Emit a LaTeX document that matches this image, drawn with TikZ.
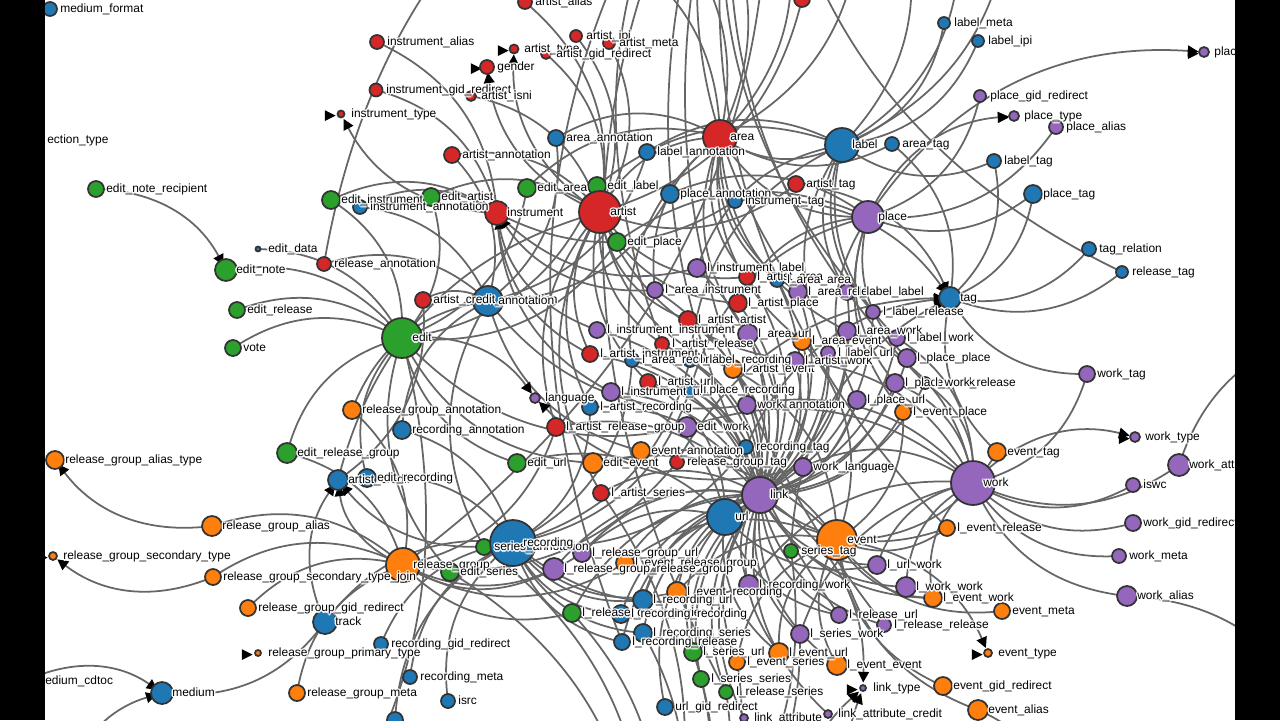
\documentclass[tikz,border=0pt]{standalone}
\usepackage{fontspec}
\setmainfont{Liberation Sans}
\usetikzlibrary{arrows.meta}

\definecolor{cb}{HTML}{1F77B4}
\definecolor{co}{HTML}{FF7F0E}
\definecolor{cg}{HTML}{2CA02C}
\definecolor{cr}{HTML}{D62728}
\definecolor{cp}{HTML}{9467BD}
\definecolor{rim}{HTML}{333333}
\definecolor{wire}{HTML}{666666}

% tables: name/x/y/radius/colour/label
\def\tablelist{%
medium_format/50/9/7/cb/medium\_format,
artist_alias/525/2/7/cr/artist\_alias,
instrument_alias/377/42/7/cr/instrument\_alias,
artist_ipi/576/36/6/cr/artist\_ipi,
artist_meta/609/43/6/cr/artist\_meta,
artist_type/514/49/4.5/cr/artist\_type,
artist_gid_redirect/546/54/5/cr/artist\_gid\_redirect,
gender/487/67/7/cr/gender,
instrument_gid_redirect/376/90/6.5/cr/instrument\_gid\_redirect,
artist_isni/471/96/5/cr/artist\_isni,
instrument_type/341/114/3.5/cr/instrument\_type,
top_red/802/-1/8/cr/{},
area_annotation/556/138/8/cb/area\_annotation,
area/720/137/17/cr/area,
label/842/145/17/cb/label,
area_tag/892/144/7/cb/area\_tag,
label_meta/944/23/6/cb/label\_meta,
label_ipi/978/41/6/cb/label\_ipi,
plac/1204/52/5/cp/plac,
place_gid_redirect/980/96/6/cp/place\_gid\_redirect,
place_type/1014/116/5/cp/place\_type,
place_alias/1056/127/7/cp/place\_alias,
label_tag/994/161/7/cb/label\_tag,
place_tag/1033/194/9/cb/place\_tag,
label_annotation/647/152/8/cb/label\_annotation,
artist_annotation/452/155/8/cr/artist\_annotation,
artist_tag/796/184/8/cr/artist\_tag,
place_annotation/670/194/9/cb/place\_annotation,
instrument_tag/735/201/7/cb/instrument\_tag,
place/868/217/16/cp/place,
edit_note_recipient/96/189/8/cg/edit\_note\_recipient,
edit_artist/431/197/9/cg/edit\_artist,
edit_instrument/331/200/9/cg/edit\_instrument,
instrument_annotation/360/207/7/cb/instrument\_annotation,
instrument/497/213/12/cr/instrument,
edit_area/527/188/9/cg/edit\_area,
edit_label/597/186/9/cg/edit\_label,
artist/600/212/21/cr/artist,
edit_place/617/242/9/cg/edit\_place,
edit_data/258/249/2.5/cb/edit\_data,
edit_note/226/270/11/cg/edit\_note,
release_annotation/324/264/7/cr/release\_annotation,
edit_release/237/310/8/cg/edit\_release,
vote/233/348/8/cg/vote,
artist_credit_annotation/423/300/8/cr/artist\_credit\_annotation,
annotation/488/301/15/cb/annotation,
edit/402/338/20/cg/edit,
l_instrument_label/697/268/9/cp/l\_instrument\_label,
l_artist_area/747/277/8/cr/l\_artist\_area,
l_area_area/777/280/7/cb/l\_area\_area,
l_area_instrument/655/290/8/cp/l\_area\_instrument,
l_area_release/798/292/9/cp/l\_area\_release,
l_label_label/847/292/8/cp/l\_label\_label,
l_artist_place/738/303/9/cr/l\_artist\_place,
l_label_release/873/312/7/cp/l\_label\_release,
tag/950/298/11/cb/tag,
tag_relation/1089/249/7/cb/tag\_relation,
release_tag/1122/272/6/cb/release\_tag,
l_artist_artist/688/320/9/cr/l\_artist\_artist,
l_instrument_instrument/597/330/8/cp/l\_instrument\_instrument,
l_area_url/748/334/10/cp/l\_area\_url,
l_area_event/802/341/9/co/l\_area\_event,
l_area_work/847/331/9/cp/l\_area\_work,
l_label_work/897/338/8/cp/l\_label\_work,
l_artist_release/662/344/7/cr/l\_artist\_release,
l_artist_instrument/590/354/8/cr/l\_artist\_instrument,
l_area_recording/632/360/7/cb/l\_area\_recording,
l_label_recording/690/360/7/cb/l\_label\_recording,
l_artist_event/733/369/9/co/l\_artist\_event,
l_artist_work/795/361/9/cp/l\_artist\_work,
l_label_url/828/353/7/cp/l\_label\_url,
l_place_place/907/358/9/cp/l\_place\_place,
l_artist_url/648/382/8/cr/l\_artist\_url,
l_instrument_url/611/392/9/cp/l\_instrument\_url,
l_place_recording/690/390/7/cb/l\_place\_recording,
l_place_work/895/383/9/cp/l\_place\_work,
l_work_release/925/383/6/cp/l\_work\_release,
work_tag/1087/374/8/cp/work\_tag,
language/535/398/5/cp/language,
l_artist_recording/590/407/8/cb/l\_artist\_recording,
work_annotation/747/405/9/cp/work\_annotation,
l_place_url/857/400/9/cp/l\_place\_url,
l_event_place/903/412/8/co/l\_event\_place,
release_group_annotation/352/410/9/co/release\_group\_annotation,
recording_annotation/402/430/9/cb/recording\_annotation,
l_artist_release_group/556/427/9/cr/l\_artist\_release\_group,
edit_work/687/427/10/cp/edit\_work,
work_type/1135/437/5/cp/work\_type,
recording_tag/746/447/7/cb/recording\_tag,
event_annotation/641/451/9/co/event\_annotation,
event_tag/997/452/9/co/event\_tag,
edit_release_group/287/453/10/cg/edit\_release\_group,
release_group_alias_type/55/460/9/co/release\_group\_alias\_type,
edit_url/517/463/9/cg/edit\_url,
edit_event/593/463/10/co/edit\_event,
release_group_tag/677/462/7/cr/release\_group\_tag,
work_language/803/467/9/cp/work\_language,
work_attribute/1179/465/11/cp/work\_attribute,
artist_credit/338/480/10/cb/artist\_credit,
edit_recording/367/478/9/cb/edit\_recording,
work/973/483/22/cp/work,
iswc/1133/485/7/cp/iswc,
l_artist_series/601/493/8/cr/l\_artist\_series,
url/725/517/18/cb/url,
link/760/495/18/cp/link,
release_group_alias/212/526/10/co/release\_group\_alias,
l_event_release/947/528/8/co/l\_event\_release,
work_gid_redirect/1133/523/8/cp/work\_gid\_redirect,
event/837/540/20/co/event,
series_annotation/484/547/8/cg/series\_annotation,
recording/513/543/23/cb/recording,
series_tag/791/551/7/cg/series\_tag,
l_release_group_url/582/553/9/cp/l\_release\_group\_url,
release_group_secondary_type/53/556/4/co/release\_group\_secondary\_type,
work_meta/1119/556/7/cp/work\_meta,
l_event_release_group/625/563/9/co/l\_event\_release\_group,
release_group/403/565/17/co/release\_group,
l_url_work/877/565/9/cp/l\_url\_work,
l_release_group_release_group/554/569/11/cp/l\_release\_group\_release\_group,
edit_series/450/572/9/cg/edit\_series,
release_group_secondary_type_join/213/577/8/co/release\_group\_secondary\_type\_join,
l_recording_work/749/585/10/cp/l\_recording\_work,
l_work_work/906/587/10/cp/l\_work\_work,
l_event_recording/677/592/10/co/l\_event\_recording,
work_alias/1127/596/10/cp/work\_alias,
l_event_work/933/598/9/co/l\_event\_work,
l_recording_url/643/600/10/cb/l\_recording\_url,
release_group_gid_redirect/248/608/8/co/release\_group\_gid\_redirect,
event_meta/1002/611/8/co/event\_meta,
l_release_group_series/572/613/9/cg/l\_release\_group\_series,
l_recording_recording/621/614/9/cb/l\_recording\_recording,
l_release_url/839/615/8/cp/l\_release\_url,
track/325/622/12/cb/track,
l_release_release/884/625/7/cp/l\_release\_release,
l_recording_series/643/633/9/cb/l\_recording\_series,
l_series_work/800/634/9/cp/l\_series\_work,
l_recording_release/622/642/8/cb/l\_recording\_release,
recording_gid_redirect/381/644/7/cb/recording\_gid\_redirect,
l_series_url/693/652/9/cg/l\_series\_url,
l_event_url/779/653/10/co/l\_event\_url,
event_type/988/653/4/co/event\_type,
release_group_primary_type/258/653/3/co/release\_group\_primary\_type,
l_event_series/737/662/8/co/l\_event\_series,
l_event_event/837/665/10/co/l\_event\_event,
recording_meta/410/677/7/cb/recording\_meta,
l_series_series/701/679/8/cg/l\_series\_series,
medium_cdtoc/25/681/8/cb/medium\_cdtoc,
event_gid_redirect/943/686/9/co/event\_gid\_redirect,
link_type/863/688/3/cp/link\_type,
l_release_series/726/692/7/cg/l\_release\_series,
medium/162/693/11/cb/medium,
release_group_meta/297/693/8/co/release\_group\_meta,
isrc/448/701/7/cb/isrc,
url_gid_redirect/665/707/8/cb/url\_gid\_redirect,
event_alias/978/710/10/co/event\_alias,
link_attribute_credit/828/714/4/cp/link\_attribute\_credit,
link_attribute/744/718/4/cp/link\_attribute,
recording_x/395/720/8/cb/{}}

% tables outside the frame
\def\offlist{release/760/-260, series/640/920, editor/230/950,
area_alias/650/-90, area_gid/700/-120, area_type/780/-100, iso_one/860/-80, iso_two/600/-60,
label_alias/900/-90, label_gid/960/-60, label_type/1010/-80,
work_alias_type/1320/720, work_attr_type/1330/330, event_alias_type/1060/820,
link_attr_type/900/900, link_type_attr/800/880, medium_src/60/800}

\def\fklist{%
edit_data/edit, edit_note/edit, edit_release/edit, vote/edit, edit_release_group/edit,
edit_artist/edit, edit_instrument/edit, edit_area/edit, edit_label/edit, edit_place/edit,
edit_url/edit, edit_event/edit, edit_work/edit, edit_recording/edit, edit_series/edit,
edit_artist/artist, edit_instrument/instrument, edit_area/area, edit_label/label,
edit_place/place, edit_url/url, edit_event/event, edit_work/work, edit_recording/recording,
edit_series/series, edit_release_group/release_group, edit/editor,
artist_annotation/annotation, artist_annotation/artist, area_annotation/annotation, area_annotation/area,
label_annotation/annotation, label_annotation/label, place_annotation/annotation, place_annotation/place,
instrument_annotation/annotation, instrument_annotation/instrument, release_annotation/annotation,
release_annotation/release, release_group_annotation/annotation, release_group_annotation/release_group,
recording_annotation/annotation, recording_annotation/recording, work_annotation/annotation,
work_annotation/work, event_annotation/annotation, event_annotation/event, series_annotation/annotation,
series_annotation/series, artist_credit_annotation/annotation, artist_credit_annotation/artist_credit,
artist_credit/artist,
artist_alias/artist, artist_ipi/artist, artist_meta/artist, artist_gid_redirect/artist, artist_isni/artist,
artist_tag/artist, artist/area, top_red/artist,
instrument_alias/instrument, instrument_gid_redirect/instrument, instrument_tag/instrument,
area_alias/area, area_gid/area, area_type/area, iso_one/area, iso_two/area,
label_meta/label, label_ipi/label, label_tag/label, label/area, label_alias/label, label_gid/label, label_type/label,
place_gid_redirect/place, place_alias/place, place_tag/place, place/area,
area_tag/area, area_tag/tag, label_tag/tag, place_tag/tag, work_tag/tag, event_tag/tag,
release_tag/tag, release_tag/release, tag_relation/tag,
recording_tag/recording, release_group_tag/release_group, series_tag/series, work_tag/work, event_tag/event,
link_attribute/link, link_attribute_credit/link, url_gid_redirect/url,
work_alias/work, work_meta/work, work_gid_redirect/work, iswc/work, work_attribute/work, work_language/work,
work_alias/work_alias_type, work_attribute/work_attr_type,
event_meta/event, event_gid_redirect/event, event_alias/event, event_alias/event_alias_type,
recording_gid_redirect/recording, recording_meta/recording, isrc/recording, track/recording, recording_x/recording,
release_group_alias/release_group, release_group_secondary_type_join/release_group,
release_group_gid_redirect/release_group, release_group_meta/release_group, release/release_group,
track/medium,
l_instrument_label/link, l_instrument_label/instrument, l_instrument_label/label,
l_artist_area/link, l_artist_area/artist, l_artist_area/area,
l_area_area/link, l_area_area/area,
l_area_instrument/link, l_area_instrument/area,
l_artist_place/link, l_artist_place/artist, l_artist_place/place,
l_area_release/link, l_area_release/area, l_area_release/release,
l_label_label/link, l_label_label/label,
l_label_release/link, l_label_release/label, l_label_release/release,
l_artist_artist/link, l_artist_artist/artist,
l_instrument_instrument/link,
l_area_url/link, l_area_url/area, l_area_url/url,
l_area_event/link, l_area_event/area, l_area_event/event,
l_area_work/link, l_area_work/area, l_area_work/work,
l_label_work/link, l_label_work/label, l_label_work/work,
l_artist_release/link, l_artist_release/artist, l_artist_release/release,
l_artist_instrument/link, l_artist_instrument/artist, l_artist_instrument/instrument,
l_area_recording/link, l_area_recording/area, l_area_recording/recording,
l_label_recording/link, l_label_recording/label, l_label_recording/recording,
l_artist_event/link, l_artist_event/artist, l_artist_event/event,
l_artist_work/link, l_artist_work/artist, l_artist_work/work,
l_label_url/link, l_label_url/label, l_label_url/url,
l_place_place/link, l_place_place/place,
l_artist_url/link, l_artist_url/artist, l_artist_url/url,
l_instrument_url/link, l_instrument_url/instrument, l_instrument_url/url,
l_place_recording/link, l_place_recording/place, l_place_recording/recording,
l_place_work/link, l_place_work/place, l_place_work/work,
l_work_release/link, l_work_release/work, l_work_release/release,
l_place_url/link, l_place_url/place, l_place_url/url,
l_event_place/link, l_event_place/event, l_event_place/place,
l_artist_recording/link, l_artist_recording/artist, l_artist_recording/recording,
l_artist_release_group/link, l_artist_release_group/artist, l_artist_release_group/release_group,
l_artist_series/link, l_artist_series/artist, l_artist_series/series,
l_release_group_url/link, l_release_group_url/release_group, l_release_group_url/url,
l_event_release_group/link, l_event_release_group/event, l_event_release_group/release_group,
l_release_group_release_group/link, l_release_group_release_group/release_group,
l_release_group_series/link, l_release_group_series/release_group, l_release_group_series/series,
l_recording_url/link, l_recording_url/recording, l_recording_url/url,
l_event_recording/link, l_event_recording/event, l_event_recording/recording,
l_recording_recording/link, l_recording_recording/recording,
l_recording_series/link, l_recording_series/recording, l_recording_series/series,
l_recording_release/link, l_recording_release/recording, l_recording_release/release,
l_recording_work/link, l_recording_work/recording, l_recording_work/work,
l_series_url/link, l_series_url/series, l_series_url/url,
l_event_url/link, l_event_url/event, l_event_url/url,
l_event_series/link, l_event_series/event, l_event_series/series,
l_event_event/link, l_event_event/event,
l_series_series/link, l_series_series/series,
l_release_series/link, l_release_series/release, l_release_series/series,
l_release_url/link, l_release_url/release, l_release_url/url,
l_release_release/link, l_release_release/release,
l_series_work/link, l_series_work/series, l_series_work/work,
l_url_work/link, l_url_work/url, l_url_work/work,
l_work_work/link, l_work_work/work,
l_event_work/link, l_event_work/event, l_event_work/work,
l_event_release/link, l_event_release/event, l_event_release/release}

\def\arrowlist{%
edit_note_recipient/edit_note, artist/gender, artist/artist_type, instrument/instrument_type,
place/place_type, place/plac, work/work_type, work_language/language, edit/language,
event/event_type, link/link_type, link_attr_type/link_type, link_type_attr/link_type,
release_group_alias/release_group_alias_type,
release_group_secondary_type_join/release_group_secondary_type,
track/artist_credit, release_group/artist_credit, recording/artist_credit,
medium_cdtoc/medium, medium_src/medium,
artist_tag/tag, instrument_tag/tag, recording_tag/tag, release_group_tag/tag, series_tag/tag,
l_area_instrument/instrument, l_instrument_instrument/instrument}

\def\selflist{artist_type, gender, instrument_type, place_type, plac, work_type,
event_type, link_type, release_group_primary_type, release_group_secondary_type}

\begin{document}
\begin{tikzpicture}[
    x=0.02cm, y=-0.02cm,
    wire/.style={draw=wire, line width=1pt},
    fk/.style={wire, -{Triangle[length=6.1pt, width=6.1pt, color=black]}, shorten >=3.1pt},
    tbl/.style={circle, draw=rim, line width=1pt, inner sep=0pt, outer sep=0pt},
    lbl/.style={font=\fontsize{6.8pt}{8pt}\selectfont, anchor=base west, inner sep=0pt}
]
\useasboundingbox (0,0) rectangle (1280,720);
\clip (0,0) rectangle (1280,720);
\fill[white] (0,0) rectangle (1280,720);

\foreach \nm/\px/\py/\rr/\col/\txt in \tablelist
    \coordinate (\nm) at (\px,\py);
\foreach \nm/\px/\py in \offlist
    \coordinate (\nm) at (\px,\py);

% links
\foreach \sa/\sb in \fklist
    \draw[wire] (\sa) to[bend left=30] (\sb);
\foreach \sa/\sb in \arrowlist
    \draw[fk] (\sa) to[bend left=30] (\sb);
\foreach \nm in \selflist
    \fill[black] (\nm) ++(-5.4,1.6) -- ++(-10.8,-5.4) -- ++(0,10.8) -- cycle;

% tables
\foreach \nm/\px/\py/\rr/\col/\txt in \tablelist {
    \pgfmathsetmacro\dia{\rr*0.04}
    \node (c-\nm) [tbl, fill=\col, minimum size=\dia cm] at (\nm) {};
}

% names
\foreach \nm/\px/\py/\rr/\col/\txt in \tablelist {
    \foreach \ang in {0,45,...,315}
        \path (\nm) ++(10,3.7) ++(\ang:1.5) node[lbl, text=white] {\txt};
    \path (\nm) ++(10,3.7) node[lbl] {\txt};
}
\foreach \ang in {0,45,...,315}
    \path (47,143.7) ++(\ang:1.5) node[lbl, text=white] {ection\_type};
\node (collection) [lbl] at (47,143.7) {ection\_type};

\fill[black] (0,0) rectangle (45,720);
\fill[black] (1235,0) rectangle (1280,720);
\end{tikzpicture}
\end{document}
